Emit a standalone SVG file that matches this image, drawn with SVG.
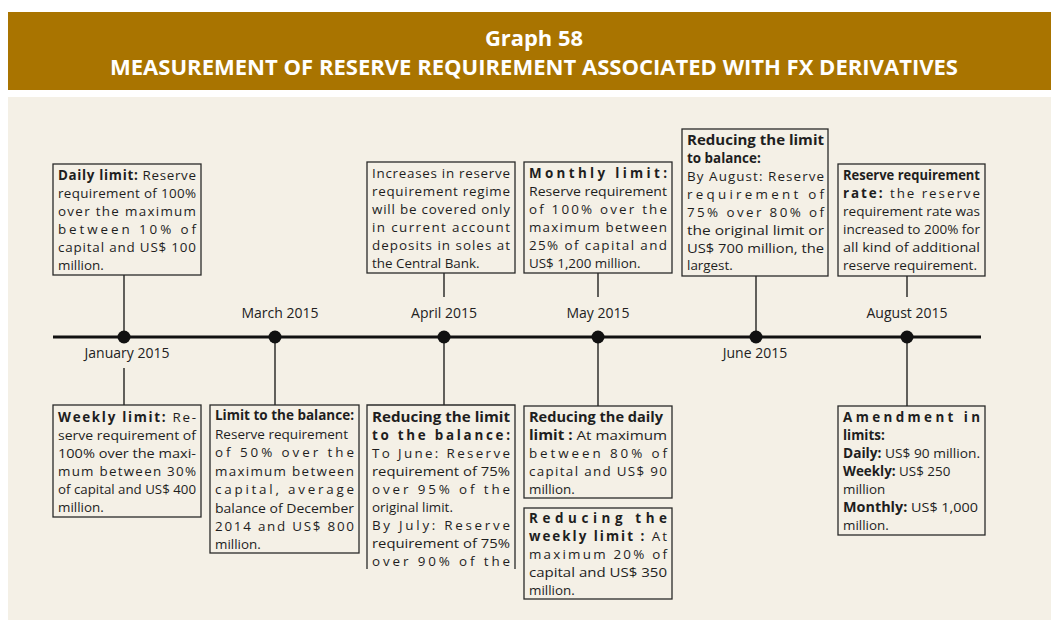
<svg xmlns="http://www.w3.org/2000/svg" width="1051" height="623" viewBox="0 0 1051 623">
<style>
.t{font-family:"Open Sans","Liberation Sans",sans-serif;font-size:13.4px;fill:#1e1e1e}
.b{font-weight:bold}
.box{fill:#f4f0e6;stroke:#2a2a2a;stroke-width:1.3}
.lbl{font-family:"Open Sans","Liberation Sans",sans-serif;font-size:14px;fill:#222;text-anchor:middle}
.con line{stroke:#111;stroke-width:1.3}
.title{font-family:"Open Sans","Liberation Sans",sans-serif;font-weight:bold;fill:#fff;text-anchor:middle}
</style>
<rect x="0" y="0" width="1051" height="623" fill="#ffffff"/>
<rect x="8" y="12" width="1043" height="78" fill="#a97400"/>
<text class="title" x="534" y="46" font-size="21" textLength="98" lengthAdjust="spacingAndGlyphs">Graph 58</text>
<text class="title" x="534" y="75" font-size="21" textLength="848" lengthAdjust="spacingAndGlyphs">MEASUREMENT OF RESERVE REQUIREMENT ASSOCIATED WITH FX DERIVATIVES</text>
<rect x="8" y="97" width="1043" height="523" fill="#f4f0e6"/>

<g id="connectors" class="con">
<line x1="53" y1="337" x2="981" y2="337" style="stroke-width:3"/>
<line x1="124" y1="275" x2="124" y2="337"/>
<line x1="124" y1="368" x2="124" y2="405"/>
<line x1="275" y1="337" x2="275" y2="405"/>
<line x1="444" y1="273" x2="444" y2="297"/>
<line x1="444" y1="337" x2="444" y2="405"/>
<line x1="598" y1="273" x2="598" y2="297"/>
<line x1="598" y1="337" x2="598" y2="406"/>
<line x1="756" y1="276" x2="756" y2="337"/>
<line x1="907" y1="276" x2="907" y2="297"/>
<line x1="907" y1="337" x2="907" y2="406"/>
</g>

<g id="timeline">
<circle cx="124" cy="337" r="6.5" fill="#111"/>
<circle cx="275" cy="337" r="6.5" fill="#111"/>
<circle cx="444" cy="337" r="6.5" fill="#111"/>
<circle cx="598" cy="337" r="6.5" fill="#111"/>
<circle cx="756" cy="337" r="6.5" fill="#111"/>
<circle cx="907" cy="337" r="6.5" fill="#111"/>
<text class="lbl" x="127" y="358">January 2015</text>
<text class="lbl" x="280" y="318">March 2015</text>
<text class="lbl" x="444" y="318">April 2015</text>
<text class="lbl" x="598" y="318">May 2015</text>
<text class="lbl" x="755" y="358">June 2015</text>
<text class="lbl" x="907" y="318">August 2015</text>
</g>

<g id="daily-limit">
<rect class="box" x="53" y="164" width="148" height="111"/>
<text class="t" x="58" y="180" textLength="138" lengthAdjust="spacing"><tspan class="b">Daily limit:</tspan> Reserve</text>
<text class="t" x="58" y="198" textLength="138" lengthAdjust="spacing">requirement of 100%</text>
<text class="t" x="58" y="216" textLength="138" lengthAdjust="spacing">over the maximum</text>
<text class="t" x="58" y="234" textLength="138" lengthAdjust="spacing">between 10% of</text>
<text class="t" x="58" y="252" textLength="138" lengthAdjust="spacing">capital and US$ 100</text>
<text class="t" x="58" y="270">million.</text>
</g>

<g id="increases">
<rect class="box" x="367" y="162" width="148" height="111"/>
<text class="t" x="372" y="177.5" textLength="138" lengthAdjust="spacing">Increases in reserve</text>
<text class="t" x="372" y="195.5" textLength="138" lengthAdjust="spacing">requirement regime</text>
<text class="t" x="372" y="213.5" textLength="138" lengthAdjust="spacing">will be covered only</text>
<text class="t" x="372" y="231.5" textLength="138" lengthAdjust="spacing">in current account</text>
<text class="t" x="372" y="249.5" textLength="138" lengthAdjust="spacing">deposits in soles at</text>
<text class="t" x="372" y="268">the Central Bank.</text>
</g>

<g id="monthly-limit">
<rect class="box" x="524" y="162" width="148" height="111"/>
<text class="t b" x="529" y="177.5" textLength="138" lengthAdjust="spacing">Monthly limit:</text>
<text class="t" x="529" y="195.5" textLength="138" lengthAdjust="spacingAndGlyphs">Reserve requirement</text>
<text class="t" x="529" y="213.5" textLength="138" lengthAdjust="spacing">of 100% over the</text>
<text class="t" x="529" y="231.5" textLength="138" lengthAdjust="spacing">maximum between</text>
<text class="t" x="529" y="249.5" textLength="138" lengthAdjust="spacing">25% of capital and</text>
<text class="t" x="529" y="268">US$ 1,200 million.</text>
</g>

<g id="reducing-limit-balance-aug">
<rect class="box" x="682" y="129" width="146" height="147"/>
<text class="t b" x="687" y="145" textLength="137" lengthAdjust="spacingAndGlyphs">Reducing the limit</text>
<text class="t b" x="687" y="162.5">to balance:</text>
<text class="t" x="687" y="180.5" textLength="137" lengthAdjust="spacing">By August: Reserve</text>
<text class="t" x="687" y="198.5" textLength="137" lengthAdjust="spacing">requirement of</text>
<text class="t" x="687" y="216.5" textLength="137" lengthAdjust="spacing">75%  over 80% of</text>
<text class="t" x="687" y="234.5" textLength="137" lengthAdjust="spacingAndGlyphs">the original limit or</text>
<text class="t" x="687" y="252.5" textLength="137" lengthAdjust="spacingAndGlyphs">US$ 700 million, the</text>
<text class="t" x="687" y="270">largest.</text>
</g>

<g id="reserve-rate">
<rect class="box" x="838" y="164" width="147" height="112"/>
<text class="t b" x="843" y="179.5" textLength="137" lengthAdjust="spacingAndGlyphs">Reserve requirement</text>
<text class="t" x="843" y="197.5" textLength="137" lengthAdjust="spacing"><tspan class="b">rate:</tspan> the reserve</text>
<text class="t" x="843" y="215.5" textLength="137" lengthAdjust="spacingAndGlyphs">requirement rate was</text>
<text class="t" x="843" y="233.5" textLength="137" lengthAdjust="spacingAndGlyphs">increased to 200% for</text>
<text class="t" x="843" y="251.5" textLength="137" lengthAdjust="spacingAndGlyphs">all kind of additional</text>
<text class="t" x="843" y="269.5" textLength="134" lengthAdjust="spacingAndGlyphs">reserve requirement.</text>
</g>

<g id="weekly-limit">
<rect class="box" x="53" y="405" width="148" height="112"/>
<text class="t" x="58" y="421.5" textLength="138" lengthAdjust="spacing"><tspan class="b">Weekly limit:</tspan> Re-</text>
<text class="t" x="58" y="439.5" textLength="138" lengthAdjust="spacingAndGlyphs">serve requirement of</text>
<text class="t" x="58" y="457.5" textLength="138" lengthAdjust="spacingAndGlyphs">100% over the maxi-</text>
<text class="t" x="58" y="475.5" textLength="138" lengthAdjust="spacing">mum between 30%</text>
<text class="t" x="58" y="493.5" textLength="138" lengthAdjust="spacingAndGlyphs">of capital and US$ 400</text>
<text class="t" x="58" y="511.5">million.</text>
</g>

<g id="limit-to-balance">
<rect class="box" x="210" y="405" width="149" height="148"/>
<text class="t b" x="215" y="420" textLength="139" lengthAdjust="spacingAndGlyphs">Limit to the balance:</text>
<text class="t" x="215" y="438.5" textLength="133" lengthAdjust="spacingAndGlyphs">Reserve requirement</text>
<text class="t" x="215" y="457" textLength="139" lengthAdjust="spacing">of 50% over the</text>
<text class="t" x="215" y="475.5" textLength="139" lengthAdjust="spacing">maximum between</text>
<text class="t" x="215" y="494" textLength="139" lengthAdjust="spacing">capital, average</text>
<text class="t" x="215" y="512.5" textLength="139" lengthAdjust="spacingAndGlyphs">balance of December</text>
<text class="t" x="215" y="531" textLength="139" lengthAdjust="spacing">2014 and US$ 800</text>
<text class="t" x="215" y="549">million.</text>
</g>

<g id="reducing-limit-balance-jun-jul">
<path d="M367 569 V405 H515 V569" fill="#f4f0e6" stroke="#2a2a2a" stroke-width="1.3"/>
<text class="t b" x="372" y="421.5" textLength="138" lengthAdjust="spacingAndGlyphs">Reducing the limit</text>
<text class="t b" x="372" y="439.5" textLength="138" lengthAdjust="spacing">to the balance:</text>
<text class="t" x="372" y="457.5" textLength="138" lengthAdjust="spacing">To June: Reserve</text>
<text class="t" x="372" y="475.5" textLength="138" lengthAdjust="spacingAndGlyphs">requirement of 75%</text>
<text class="t" x="372" y="493.5" textLength="138" lengthAdjust="spacing">over 95% of the</text>
<text class="t" x="372" y="511.5">original limit.</text>
<text class="t" x="372" y="529.5" textLength="138" lengthAdjust="spacing">By July: Reserve</text>
<text class="t" x="372" y="547.5" textLength="138" lengthAdjust="spacingAndGlyphs">requirement of 75%</text>
<text class="t" x="372" y="565.5" textLength="138" lengthAdjust="spacing">over 90% of the</text>
</g>

<g id="reducing-daily">
<rect class="box" x="524" y="406" width="148" height="92"/>
<text class="t b" x="529" y="421.5" textLength="134" lengthAdjust="spacingAndGlyphs">Reducing the daily</text>
<text class="t" x="529" y="439.5" textLength="138" lengthAdjust="spacingAndGlyphs"><tspan class="b">limit :</tspan> At maximum</text>
<text class="t" x="529" y="457.5" textLength="138" lengthAdjust="spacing">between 80% of</text>
<text class="t" x="529" y="475.5" textLength="138" lengthAdjust="spacing">capital and US$ 90</text>
<text class="t" x="529" y="493.5">million.</text>
</g>

<g id="reducing-weekly">
<rect class="box" x="524" y="508" width="148" height="91"/>
<text class="t b" x="529" y="522.5" textLength="138" lengthAdjust="spacing">Reducing the</text>
<text class="t" x="529" y="540.5" textLength="138" lengthAdjust="spacing"><tspan class="b">weekly limit :</tspan> At</text>
<text class="t" x="529" y="558.5" textLength="138" lengthAdjust="spacing">maximum 20% of</text>
<text class="t" x="529" y="576.5" textLength="138" lengthAdjust="spacingAndGlyphs">capital and US$ 350</text>
<text class="t" x="529" y="594.5">million.</text>
</g>

<g id="amendment">
<rect class="box" x="838" y="406" width="147" height="129"/>
<text class="t b" x="843" y="421.5" textLength="137" lengthAdjust="spacing">Amendment in</text>
<text class="t b" x="843" y="439.5">limits:</text>
<text class="t" x="843" y="457.5" textLength="137" lengthAdjust="spacingAndGlyphs"><tspan class="b">Daily:</tspan> US$ 90 million.</text>
<text class="t" x="843" y="475.5"><tspan class="b">Weekly:</tspan> US$ 250</text>
<text class="t" x="843" y="493.5">million</text>
<text class="t" x="843" y="511.5" textLength="135" lengthAdjust="spacingAndGlyphs"><tspan class="b">Monthly:</tspan> US$ 1,000</text>
<text class="t" x="843" y="529.5">million.</text>
</g>
</svg>
